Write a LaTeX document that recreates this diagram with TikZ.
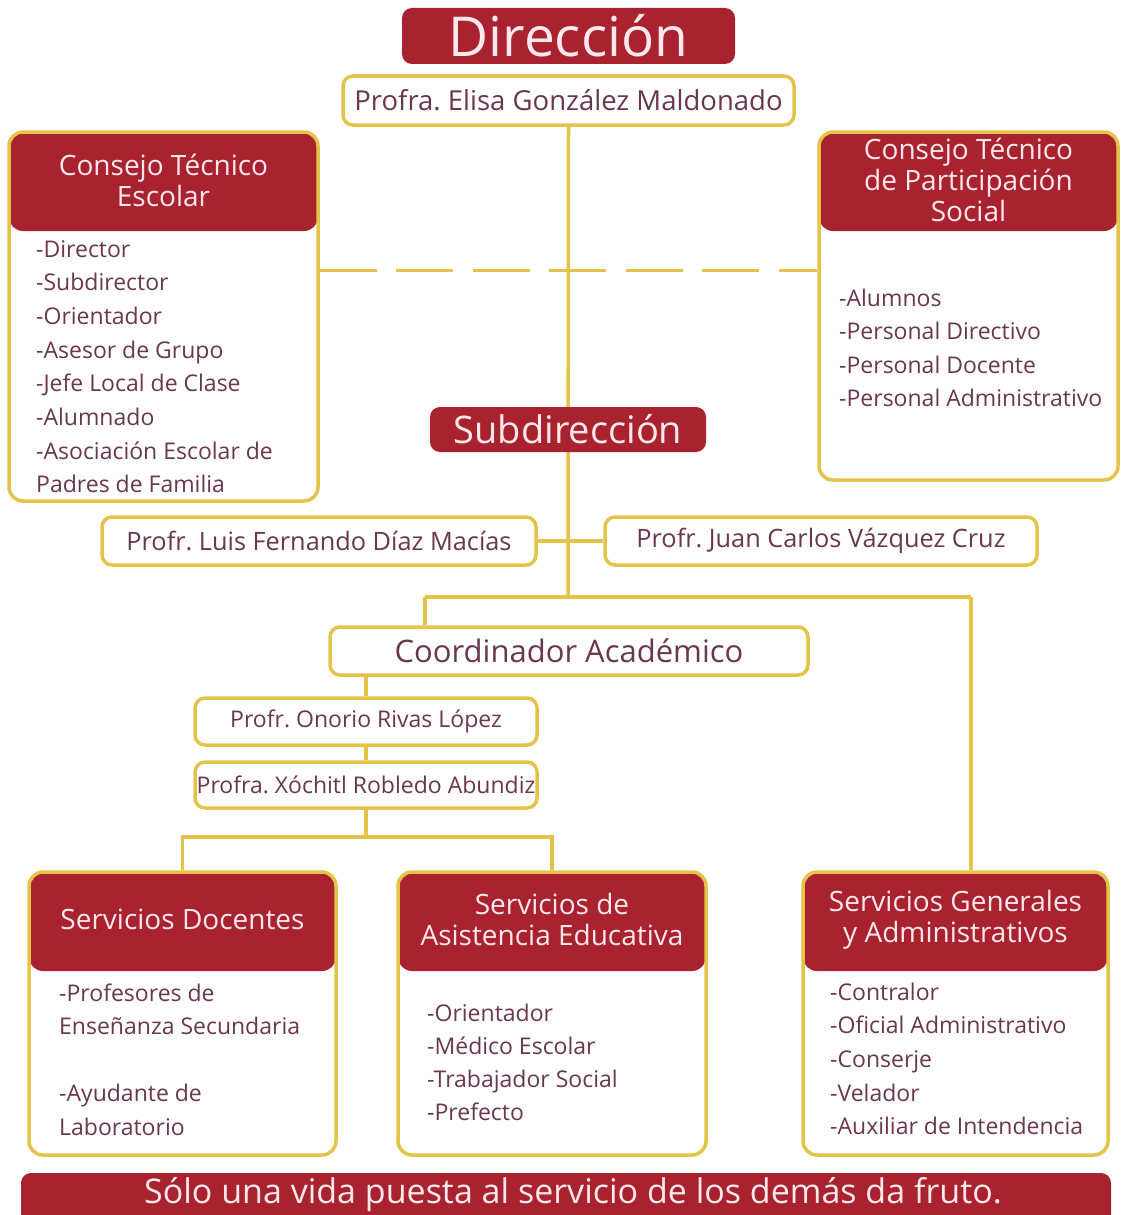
\documentclass[tikz,border=0pt]{standalone}
\usepackage{fontspec}
\setmainfont{Open Sans}
\usetikzlibrary{positioning,calc,backgrounds}
\frenchspacing

\definecolor{crimson}{RGB}{168,34,47}
\definecolor{gold}{RGB}{228,196,72}
\definecolor{ink}{RGB}{105,55,78}
\definecolor{blush}{RGB}{255,232,236}

\tikzset{
  titlebox/.style={fill=crimson, text=blush, rounded corners=10pt, inner sep=0pt},
  namebox/.style={draw=gold, line width=3.5pt, fill=white, rounded corners=10pt, text=ink,
    inner sep=0pt, font=\fontsize{27.5}{30}\selectfont},
  panel/.style={draw=gold, line width=3.5pt, fill=white, rounded corners=14pt, inner sep=0pt,
    path picture={\fill[crimson] (path picture bounding box.north west)
      rectangle ([yshift=-99pt]path picture bounding box.north east);}},
  head/.style={text=blush, align=center, inner sep=0pt, font=\fontsize{28}{31}\selectfont},
  item/.style={text=ink, anchor=base west, inner sep=0pt, font=\fontsize{23}{26}\selectfont},
  link/.style={draw=gold, line width=3.5pt},
}

\begin{document}
\begin{tikzpicture}[x=1pt, y=-1pt]
    \clip (0,0) rectangle (1120,1215);

    % Direccion
    \node[titlebox, minimum width=333pt, minimum height=56pt, font=\fontsize{55}{60}\selectfont] (dir) at (568.5,36) {Dirección};
    \node[namebox, minimum width=451pt, minimum height=49pt] (elisa) at (568.5,100.5) {Profra. Elisa González Maldonado};

    % Consejos
    \node[panel, minimum width=309pt, minimum height=369pt] (cte) at (163.5,316.5) {};
    \node[head] (cte-head) at ([yshift=-50pt]cte.north) {Consejo Técnico\\Escolar};
    \foreach \txt [count=\i] in {-Director,-Subdirector,-Orientador,-Asesor de Grupo,-Jefe Local de Clase,-Alumnado,-Asociación Escolar de,Padres de Familia}
        \node[item] (cte-\i) at (36,257+33.7*\i-33.7) {\txt};

    \node[panel, minimum width=299pt, minimum height=348pt] (ctps) at (968.5,306) {};
    \node[head] (ctps-head) at ([yshift=-50pt]ctps.north) {Consejo Técnico\\de Participación\\Social};
    \foreach \txt [count=\i] in {-Alumnos,-Personal Directivo,-Personal Docente,-Personal Administrativo}
        \node[item] (ctps-\i) at (839,306+33.5*\i-33.5) {\txt};

    % Subdireccion
    \node[titlebox, minimum width=276pt, minimum height=45pt, font=\fontsize{38}{42}\selectfont] (sub) at (568,429.5) {Subdirección};
    \node[namebox, minimum width=434pt, minimum height=48pt, font=\fontsize{25.3}{28}\selectfont] (luis) at (319,541) {Profr. Luis Fernando Díaz Macías};
    \node[namebox, minimum width=432pt, minimum height=48pt, font=\fontsize{25.3}{28}\selectfont] (juan) at (821,541) {Profr. Juan Carlos Vázquez Cruz};

    % Coordinacion academica
    \node[namebox, minimum width=478pt, minimum height=48pt, font=\fontsize{31}{34}\selectfont] (coord) at (569,651) {Coordinador Académico};
    \node[namebox, minimum width=342pt, minimum height=47pt, font=\fontsize{23}{26}\selectfont] (onorio) at (366,721.5) {Profr. Onorio Rivas López};
    \node[namebox, minimum width=342pt, minimum height=46pt, font=\fontsize{23}{26}\selectfont] (xochitl) at (366,785) {Profra. Xóchitl Robledo Abundiz};

    % Servicios
    \node[panel, minimum width=307pt, minimum height=283pt] (sd) at (182.5,1013.5) {};
    \node[head] (sd-head) at ([yshift=-49pt]sd.north) {Servicios Docentes};
    \foreach \txt/\yy [count=\i] in {-Profesores de/1001,Enseñanza Secundaria/1034,-Ayudante de/1101,Laboratorio/1135}
        \node[item] (sd-\i) at (59,\yy) {\txt};

    \node[panel, minimum width=308pt, minimum height=283pt] (sae) at (552,1013.5) {};
    \node[head] (sae-head) at ([yshift=-49pt]sae.north) {Servicios de\\Asistencia Educativa};
    \foreach \txt [count=\i] in {-Orientador,-Médico Escolar,-Trabajador Social,-Prefecto}
        \node[item] (sae-\i) at (427,1021+33.3*\i-33.3) {\txt};

    \node[panel, minimum width=305pt, minimum height=283pt] (sga) at (955.5,1013.5) {};
    \node[head] (sga-head) at ([yshift=-49pt]sga.north) {Servicios Generales\\y Administrativos};
    \foreach \txt [count=\i] in {-Contralor,-Oficial Administrativo,-Conserje,-Velador,-Auxiliar de Intendencia}
        \node[item] (sga-\i) at (830,1000+33.7*\i-33.7) {\txt};

    % Lema
    \node[titlebox, minimum width=1090pt, minimum height=70pt] (banner) at (566,1208) {};
    \node[text=blush, font=\fontsize{34}{37}\selectfont] (motto) at (573,1195) {Sólo una vida puesta al servicio de los demás da fruto.};

    % Lineas
    \begin{scope}[on background layer]
        \coordinate (hub) at (568,597);
        \coordinate (hubL) at (425,597);
        \coordinate (hubR) at (971,597);
        \coordinate (fork) at (366,837);
        \draw[link] (elisa.south) -- (hub);
        \draw[link, dash pattern=on 57pt off 19.5pt] ($(cte.north east)+(0,140)$) -- ($(ctps.north west)+(0,140)$);
        \draw[link] (luis.east) -- (juan.west);
        \draw[link] (hubL) -- (hubR);
        \draw[link] (hubL) -- (hubL |- coord.north);
        \draw[link] (hubR) -- (hubR |- sga.north);
        \draw[link] (onorio.north |- coord.south) -- (onorio.north);
        \draw[link] (onorio.south) -- (xochitl.north);
        \draw[link] (xochitl.south) -- (fork);
        \draw[link] (sd.north) |- (fork) -| (sae.north);
    \end{scope}
\end{tikzpicture}
\end{document}
